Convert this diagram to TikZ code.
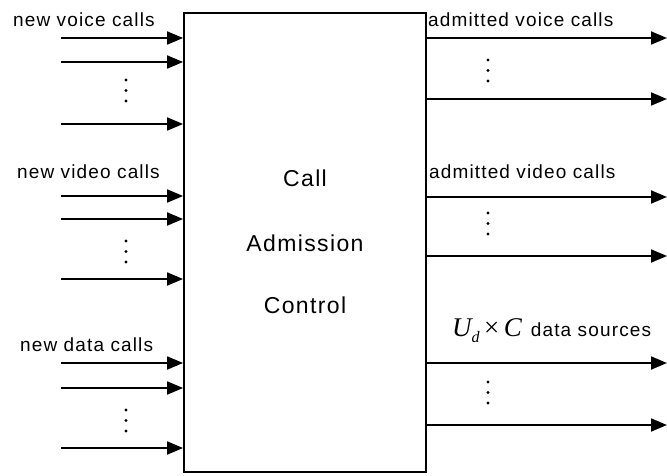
\documentclass[tikz,border=0pt]{standalone}
\usepackage{fontspec}
\setmainfont{Liberation Sans}
\newfontfamily\lblfont[LetterSpace=6]{Liberation Sans}
\newfontfamily\symfont{Liberation Serif}
\usetikzlibrary{arrows.meta}
\begin{document}
\begin{tikzpicture}[x=1pt,y=-1pt,
    flow/.style={line width=1.8pt,-{Triangle[length=16pt,width=13pt]}},
    lbl/.style={font=\lblfont\fontsize{19}{22}\selectfont,inner sep=0pt},
    big/.style={font=\lblfont\fontsize{23}{27}\selectfont,inner sep=0pt}]
    \useasboundingbox (0,0) rectangle (667,476);

    % the controller
    \node[draw,line width=1.8pt,minimum width=242pt,minimum height=459pt,inner sep=0pt] (cac) at (305,242.5) {};
    \node[big] (cac1) at (305,178) {Call};
    \node[big] (cac2) at (305,243) {Admission};
    \node[big] (cac3) at (305,305) {Control};

    % arrivals
    \node[lbl,anchor=west] (voicein) at (13,20) {new voice calls};
    \node[lbl,anchor=west] (videoin) at (17,172) {new video calls};
    \node[lbl,anchor=west] (datain) at (20,345) {new data calls};
    \foreach \y [count=\i] in {38,62,124,196,219,279,363,388,448} {
        \coordinate (in\i) at (61,\y);
        \draw[flow] (in\i) -- (in\i -| cac.west);
    }

    % admitted
    \node[lbl,anchor=west] (voiceout) at (428,20) {admitted voice calls};
    \node[lbl,anchor=west] (videoout) at (429,172) {admitted video calls};
    \node[lbl,anchor=west] (dataout) at (452,331)
        {{\symfont\fontsize{27}{27}\selectfont\itshape U\raisebox{-6pt}{\fontsize{16}{16}\selectfont d}\,\upshape×\,\itshape C}\hspace{9pt}data sources};
    \foreach \y [count=\i] in {38,99,197,256,363,425} {
        \coordinate (out\i) at (667,\y);
        \draw[flow] (out\i -| cac.east) -- (out\i);
    }

    % vertical dots
    \foreach \x/\y in {126/80,126/241,126/410,488/60,488/213,488/382}
        \foreach \k in {0,1,2}
            \fill (\x,\y+\k*10.5) circle (1.7pt);
\end{tikzpicture}
\end{document}
